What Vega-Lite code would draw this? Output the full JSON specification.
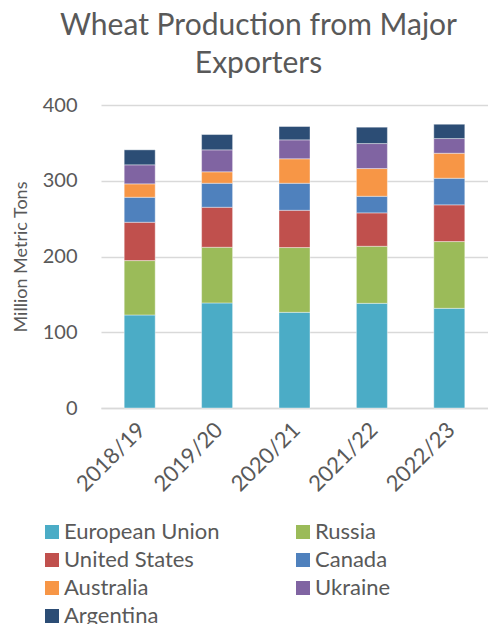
{
  "$schema": "https://vega.github.io/schema/vega-lite/v6.json",
  "autosize": {"type": "none"},
  "padding": {"left": 101, "top": 105, "right": 0, "bottom": 216},
  "width": 387,
  "height": 303,
  "background": "white",
  "config": {
    "font": "Lato",
    "view": {"stroke": null}
  },
  "title": {
    "text": ["Wheat Production from Major", "Exporters"],
    "anchor": "middle",
    "frame": "group",
    "dx": -36,
    "offset": 16,
    "fontSize": 30,
    "fontWeight": "normal",
    "color": "#595959",
    "lineHeight": 38,
    "font": "Lato"
  },
  "data": {
    "values": [
      {"year": "2018/19", "country": "European Union", "value": 122.8},
      {"year": "2018/19", "country": "Russia", "value": 71.8},
      {"year": "2018/19", "country": "United States", "value": 50.6},
      {"year": "2018/19", "country": "Canada", "value": 33.0},
      {"year": "2018/19", "country": "Australia", "value": 17.7},
      {"year": "2018/19", "country": "Ukraine", "value": 25.1},
      {"year": "2018/19", "country": "Argentina", "value": 19.8},
      {"year": "2019/20", "country": "European Union", "value": 138.7},
      {"year": "2019/20", "country": "Russia", "value": 73.5},
      {"year": "2019/20", "country": "United States", "value": 52.8},
      {"year": "2019/20", "country": "Canada", "value": 31.7},
      {"year": "2019/20", "country": "Australia", "value": 15.1},
      {"year": "2019/20", "country": "Ukraine", "value": 29.0},
      {"year": "2019/20", "country": "Argentina", "value": 20.2},
      {"year": "2020/21", "country": "European Union", "value": 126.3},
      {"year": "2020/21", "country": "Russia", "value": 85.5},
      {"year": "2020/21", "country": "United States", "value": 49.2},
      {"year": "2020/21", "country": "Canada", "value": 35.7},
      {"year": "2020/21", "country": "Australia", "value": 32.3},
      {"year": "2020/21", "country": "Ukraine", "value": 25.0},
      {"year": "2020/21", "country": "Argentina", "value": 17.6},
      {"year": "2021/22", "country": "European Union", "value": 138.2},
      {"year": "2021/22", "country": "Russia", "value": 75.3},
      {"year": "2021/22", "country": "United States", "value": 44.1},
      {"year": "2021/22", "country": "Canada", "value": 21.9},
      {"year": "2021/22", "country": "Australia", "value": 36.6},
      {"year": "2021/22", "country": "Ukraine", "value": 33.0},
      {"year": "2021/22", "country": "Argentina", "value": 21.6},
      {"year": "2022/23", "country": "European Union", "value": 131.6},
      {"year": "2022/23", "country": "Russia", "value": 88.1},
      {"year": "2022/23", "country": "United States", "value": 48.5},
      {"year": "2022/23", "country": "Canada", "value": 35.1},
      {"year": "2022/23", "country": "Australia", "value": 33.0},
      {"year": "2022/23", "country": "Ukraine", "value": 19.4},
      {"year": "2022/23", "country": "Argentina", "value": 18.9}
    ]
  },
  "transform": [
    {"calculate": "indexof(['European Union','Russia','United States','Canada','Australia','Ukraine','Argentina'], datum.country)", "as": "stackOrder"}
  ],
  "mark": {"type": "bar", "size": 31, "stroke": "white", "strokeWidth": 0.4},
  "encoding": {
    "x": {
      "field": "year",
      "type": "nominal",
      "scale": {"paddingInner": 0, "paddingOuter": 0},
      "axis": {
        "title": null,
        "labelAngle": -45,
        "labelFontSize": 22,
        "labelColor": "#595959",
        "labelPadding": 11,
        "labelOffset": -5,
        "ticks": false,
        "domainColor": "#D9D9D9",
        "domainWidth": 1.5,
        "labelFont": "Lato"
      }
    },
    "y": {
      "field": "value",
      "type": "quantitative",
      "stack": "zero",
      "scale": {"domain": [0, 400]},
      "axis": {
        "title": "Million Metric Tons",
        "titleFontSize": 18,
        "titleFontWeight": "normal",
        "titleColor": "#595959",
        "titlePadding": 12,
        "titleFont": "Lato",
        "values": [0, 100, 200, 300, 400],
        "labelFontSize": 20,
        "labelColor": "#595959",
        "labelPadding": 24,
        "labelFont": "Lato",
        "ticks": false,
        "domain": false,
        "gridColor": "#D9D9D9",
        "gridWidth": 1.5
      }
    },
    "order": {"field": "stackOrder", "type": "quantitative", "sort": "ascending"},
    "color": {
      "field": "country",
      "type": "nominal",
      "scale": {
        "domain": ["European Union", "Russia", "United States", "Canada", "Australia", "Ukraine", "Argentina"],
        "range": ["#4BACC6", "#9BBB59", "#C0504D", "#4F81BD", "#F79646", "#8064A2", "#2C4D75"]
      },
      "legend": {
        "orient": "none",
        "legendX": -60,
        "legendY": 416,
        "direction": "horizontal",
        "columns": 2,
        "title": null,
        "symbolType": "square",
        "symbolSize": 196,
        "symbolStrokeWidth": 0,
        "labelFontSize": 22,
        "labelColor": "#595959",
        "labelFont": "Lato",
        "labelOffset": 1,
        "rowPadding": 6,
        "columnPadding": 72,
        "labelLimit": 300
      }
    }
  }
}
